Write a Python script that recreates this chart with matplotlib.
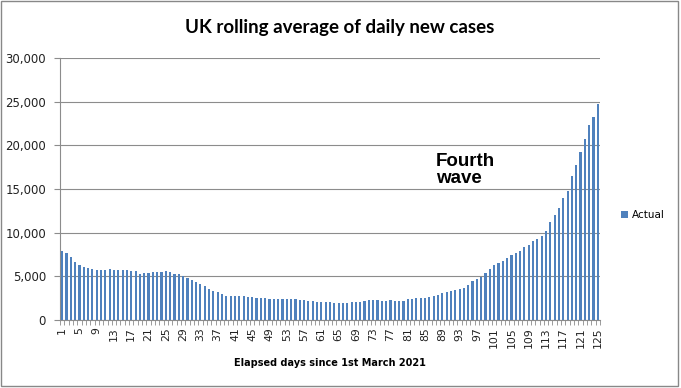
import matplotlib
matplotlib.use("Agg")
import matplotlib.pyplot as plt
import numpy as np

days = list(range(1, 126))
actual = [
    7950, 7650, 7200, 6630, 6330, 6060, 5980, 5800, 5680, 5680,
    5680, 5800, 5680, 5680, 5680, 5680, 5600, 5600, 5300, 5380,
    5380, 5450, 5450, 5450, 5570, 5490, 5300, 5230, 5000, 4800,
    4620, 4400, 4100, 3900, 3600, 3300, 3150, 2950, 2800, 2700,
    2700, 2800, 2800, 2650, 2650, 2500, 2500, 2500, 2400, 2350,
    2350, 2350, 2350, 2350, 2350, 2300, 2250, 2200, 2150, 2100,
    2100, 2100, 2050, 1950, 1950, 1950, 2000, 2050, 2050, 2050,
    2150, 2250, 2250, 2250, 2150, 2150, 2250, 2200, 2200, 2200,
    2350, 2450, 2500, 2550, 2550, 2600, 2750, 2900, 3050, 3150,
    3300, 3400, 3550, 3700, 4000, 4430, 4730, 4920, 5380, 5870,
    6250, 6500, 6800, 7080, 7390, 7650, 7950, 8330, 8640, 9020,
    9280, 9660, 10230, 11250, 12050, 12800, 13940, 14770, 16480, 17730,
    19240, 20760, 22350, 23300, 24700,
]
series_name = "Actual"
title = "UK rolling average of daily new cases"
xlabel = "Elapsed days since 1st March 2021"
yticks = [0, 5000, 10000, 15000, 20000, 25000, 30000]

fig = plt.figure(figsize=(6.81, 3.88), dpi=100)
fig.patch.set_facecolor("white")
# outer border
fig.add_artist(plt.Rectangle((0.001, 0.004), 0.995, 0.993, transform=fig.transFigure,
                             fill=False, edgecolor="#888888", linewidth=1.0))

ax = fig.add_axes([60/681, (388-320)/388, 540/681, 262/388])
bars = ax.bar(days, actual, width=0.5, color="#4F81BD", label=series_name, zorder=3)

ax.set_xlim(0.5, 125.5)
ax.set_ylim(0, 30000)
ax.set_yticks(yticks)
ax.set_yticklabels([f"{v:,}" for v in yticks], fontsize=8.5, family="DejaVu Sans", color="#222222")
ax.yaxis.grid(True, color="#8c8c8c", linewidth=0.8, zorder=0)
ax.set_axisbelow(True)

label_days = days[::4]
ax.set_xticks(label_days)
ax.set_xticklabels([str(d) for d in label_days], rotation=90, fontsize=7.8, color="#222222")
ax.tick_params(axis="x", length=0, pad=5)
ax.set_xticks([d + 0.5 for d in [0] + days], minor=True)
ax.tick_params(axis="x", which="minor", length=3.5, color="#8c8c8c")
ax.tick_params(axis="y", length=4, color="#8c8c8c", pad=6)

for s in ["top", "right"]:
    ax.spines[s].set_visible(False)
for s in ["left", "bottom"]:
    ax.spines[s].set_color("#8c8c8c")
    ax.spines[s].set_linewidth(0.8)

fig.text(340/681, 1 - 27/388, title, ha="center", va="center", fontsize=13.5,
         fontweight="bold", family="Lato")
fig.text(330/681, 1 - 363/388, xlabel, ha="center", va="center", fontsize=7,
         fontweight="bold", family="DejaVu Sans")
fig.text(436/681, 1 - 170/388, "Fourth\nwave", ha="left", va="center", fontsize=13.5,
         fontweight="bold", family="Liberation Sans", linespacing=1.0)

leg = fig.legend(handles=[bars], labels=[series_name], loc="center left",
                 bbox_to_anchor=(612/681, 1 - 215/388), frameon=False, fontsize=7.5,
                 handlelength=0.6, handleheight=0.6, handletextpad=0.4)

fig.savefig("out.png", dpi=100, facecolor="white")
